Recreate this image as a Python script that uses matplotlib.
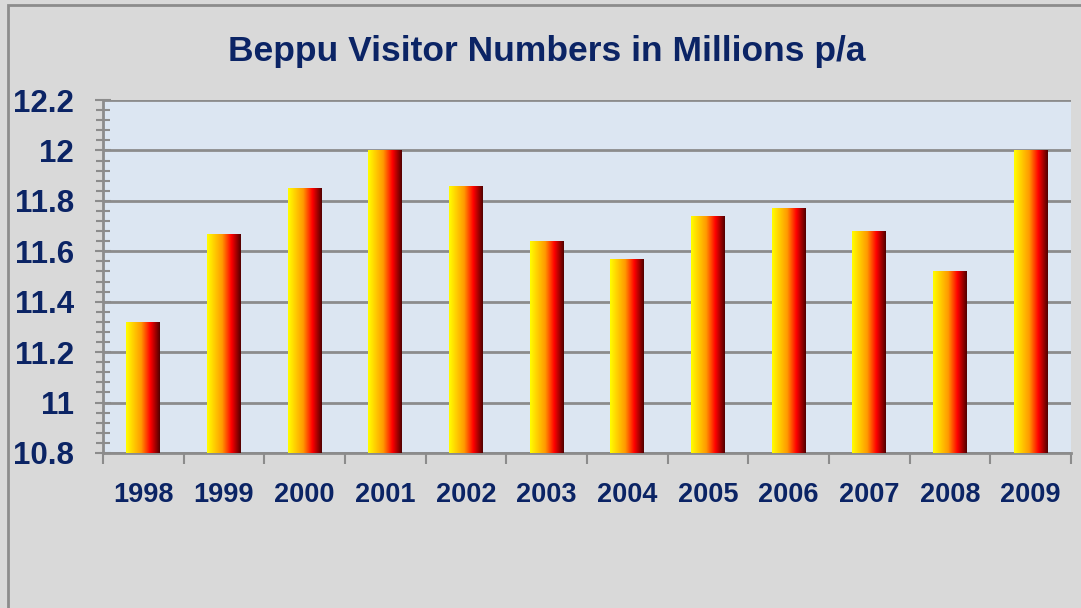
import numpy as np
import matplotlib
matplotlib.use('Agg')
import matplotlib.pyplot as plt
from matplotlib import font_manager
from matplotlib.colors import LinearSegmentedColormap
from matplotlib.patches import Rectangle
from matplotlib.ticker import MultipleLocator

years = ['1998', '1999', '2000', '2001', '2002', '2003', '2004', '2005', '2006', '2007', '2008', '2009']
visitors = [11.32, 11.67, 11.85, 12.0, 11.86, 11.64, 11.57, 11.74, 11.77, 11.68, 11.52, 12.0]
y_min, y_max = 10.8, 12.2

navy = '#0b2465'

# use a narrow face if one is installed, otherwise shrink regular Liberation Sans
installed = {f.name for f in font_manager.fontManager.ttflist}
if 'Liberation Sans Narrow' in installed:
    narrow, xsize, tsize = 'Liberation Sans Narrow', 23, 30
else:
    narrow, xsize, tsize = 'Liberation Sans', 19.5, 25.5

fig = plt.figure(figsize=(10.81, 6.08), dpi=100)
fig.patch.set_facecolor('#d9d9d9')

# outer border of the chart area (cut off on right and bottom)
fig.patches.append(Rectangle((8 / 1081, -0.1), 1.2, (608 - 5) / 608 + 0.1,
                             transform=fig.transFigure, fill=False,
                             edgecolor='#8c8c8c', linewidth=2))

ax = fig.add_axes([103 / 1081, (608 - 453) / 608, (1071 - 103) / 1081, (453 - 100) / 608])
ax.set_facecolor('#dce6f2')

x = np.arange(len(years))
bars = ax.bar(x, np.array(visitors) - y_min, bottom=y_min, width=0.42,
              facecolor='none', edgecolor='none', zorder=3)

# horizontal gradient inside each bar
grad_cmap = LinearSegmentedColormap.from_list(
    'fire', [(0, '#ffff00'), (0.45, '#ff9900'), (0.72, '#ff0000'), (1, '#500000')])
grad = np.linspace(0, 1, 256).reshape(1, -1)
for b in bars:
    x0, w = b.get_x(), b.get_width()
    im = ax.imshow(grad, cmap=grad_cmap, aspect='auto', zorder=3,
                   extent=(x0, x0 + w, y_min, y_min + b.get_height()))
    im.set_clip_path(b)

ax.set_xlim(-0.5, len(years) - 0.5)
ax.set_ylim(y_min, y_max)

# y axis
ax.set_yticks(np.arange(10.8, 12.21, 0.2))
ax.set_yticklabels(['10.8', '11', '11.2', '11.4', '11.6', '11.8', '12', '12.2'])
ax.yaxis.set_minor_locator(MultipleLocator(0.04))
ax.tick_params(axis='y', which='major', direction='inout', length=12, width=1.5,
               color='#8c8c8c', pad=15, labelsize=22.5, labelcolor=navy)
ax.tick_params(axis='y', which='minor', direction='inout', length=10, width=1.5,
               color='#8c8c8c')
for t in ax.get_yticklabels():
    t.set_fontweight('bold')
    t.set_family('Liberation Sans')

# x axis: ticks at category boundaries, labels at centres
ax.set_xticks(np.arange(-0.5, len(years), 1.0))
ax.set_xticklabels([])
ax.set_xticks(x, minor=True)
ax.set_xticklabels(years, minor=True, fontsize=xsize, fontweight='bold', color=navy,
                   family=narrow)
ax.tick_params(axis='x', which='major', direction='out', length=8, width=1.5, color='#8c8c8c')
ax.tick_params(axis='x', which='minor', length=0, pad=21)

ax.grid(axis='y', which='major', color='#8c8c8c', linewidth=2, zorder=1)
ax.set_axisbelow(True)
for side in ['top', 'right']:
    ax.spines[side].set_visible(False)
for side in ['left', 'bottom']:
    ax.spines[side].set_color('#8c8c8c')
    ax.spines[side].set_linewidth(2)

fig.text(547 / 1081, 1 - 51 / 608, 'Beppu Visitor Numbers in Millions p/a',
         ha='center', va='center', fontsize=tsize, fontweight='bold', color=navy,
         family=narrow)

fig.savefig('out.png', dpi=100, facecolor=fig.get_facecolor())
